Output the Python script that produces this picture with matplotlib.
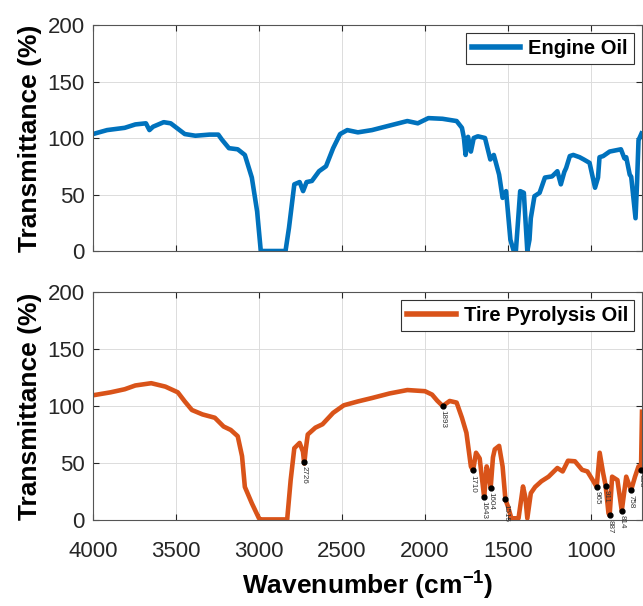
import numpy as np
import matplotlib
matplotlib.use("Agg")
import matplotlib.pyplot as plt

# -------------------------
# DATA
# -------------------------
eo_wn = [4000, 3915, 3809, 3745, 3681, 3660, 3638, 3574, 3532, 3447, 3383, 3298,
         3245, 3223, 3181, 3128, 3085, 3043, 3011, 2989, 2840, 2819, 2787, 2755,
         2734, 2713, 2681, 2638, 2596, 2553, 2511, 2468, 2404, 2319, 2213, 2106,
         2043, 1979, 1894, 1809, 1777, 1765, 1755, 1740, 1723, 1706, 1681, 1638,
         1606, 1585, 1553, 1532, 1511, 1485, 1465, 1452, 1426, 1404, 1383, 1370,
         1362, 1340, 1309, 1277, 1234, 1202, 1181, 1160, 1149, 1127, 1106, 1068,
         1043, 1008, 975, 957, 948, 926, 887, 819, 798, 787, 766, 757, 731, 722,
         713, 695]
eo_T = [103.5, 107, 109, 112, 113, 107, 110, 114, 113, 103.5, 102, 103,
        103, 98.5, 91, 90, 85, 65, 35, 0, 0, 20.6, 59, 61,
        53, 61, 62, 70.6, 75, 91, 103.5, 107, 105, 107, 111, 115,
        113, 117.6, 117, 115, 109, 100, 85, 101, 88, 100, 101.5, 100,
        81, 85, 67.6, 47, 53, 10, 0, 0, 53, 51.5, 0, 10,
        29, 48.5, 51.5, 65, 66, 70.6, 59, 70, 73.5, 84, 85, 83,
        81, 78, 56, 65, 83, 84, 88, 90, 82, 83, 67.6, 65.7, 29, 60,
        98, 104]

tpo_wn = [4000, 3894, 3809, 3745, 3649, 3564, 3489, 3447, 3404, 3340, 3266, 3213,
          3170, 3128, 3102, 3085, 3043, 3000, 2990, 2830, 2809, 2787, 2755, 2735,
          2727, 2718, 2706, 2660, 2617, 2553, 2489, 2404, 2319, 2213, 2106, 2000,
          1957, 1926, 1893, 1851, 1809, 1777, 1750, 1723, 1710, 1692, 1670, 1655,
          1643, 1628, 1615, 1604, 1590, 1579, 1553, 1532, 1515, 1500, 1479, 1436,
          1409, 1395, 1383, 1362, 1336, 1298, 1255, 1202, 1170, 1138, 1096, 1053,
          1021, 989, 965, 947, 926, 911, 894, 887, 872, 840, 814, 787, 758, 734,
          713, 698, 692]
tpo_T = [109.4, 112, 114.7, 118, 120, 117, 112, 104, 96.5, 92.6, 89.7, 82,
         79, 73.5, 56, 29, 14.7, 1.5, 0.5, 0.5, 35, 63, 67.6, 60,
         49.4, 62, 75, 81, 84, 94, 100.6, 104, 107, 111, 114, 113,
         110, 104.7, 100, 104.4, 103, 89.7, 76.5, 47, 43.5, 59, 54, 35,
         20, 47, 40, 28, 55, 62, 65, 47, 18, 12, 1.5, 1.5,
         29.4, 20, 1.5, 23.5, 29, 34, 38, 45.6, 42.6, 52, 51.5, 44,
         42.6, 35, 29, 59, 41, 30, 6, 4, 38, 35, 8, 38, 26, 38,
         47, 44, 95]

peak_wn = [2726, 1893, 1710, 1643, 1604, 1515, 965, 911, 887, 814, 758, 698]

# -------------------------
# STYLE
# -------------------------
plt.rcParams["font.family"] = ["Liberation Sans", "DejaVu Sans"]
plt.rcParams["mathtext.fontset"] = "custom"
plt.rcParams["mathtext.bf"] = "Liberation Sans:bold"
plt.rcParams["mathtext.rm"] = "Liberation Sans"
plt.rcParams["mathtext.default"] = "bf"

blue = "#0072BD"
orange = "#D95319"

fig = plt.figure(figsize=(6.43, 6.06), dpi=100)
ax1 = fig.add_axes([93 / 643, 1 - 251 / 606, 549 / 643, 226 / 606])
ax2 = fig.add_axes([93 / 643, 1 - 520 / 606, 549 / 643, 228 / 606])

ax1.plot(eo_wn, eo_T, color=blue, lw=3.3, label="Engine Oil")
ax2.plot(tpo_wn, tpo_T, color=orange, lw=3.3, label="Tire Pyrolysis Oil")

# peak markers on the tire oil curve
peak_T = np.interp(peak_wn, tpo_wn[::-1], tpo_T[::-1])
ax2.plot(peak_wn, peak_T, "o", color="black", ms=3.5, zorder=5)
for w, t in zip(peak_wn, peak_T):
    ax2.annotate(str(w), (w, t), xytext=(0, -3), textcoords="offset points",
                 rotation=-90, ha="center", va="top", fontsize=5.8,
                 color="#333333")

for ax in (ax1, ax2):
    ax.set_xlim(4000, 692)
    ax.set_ylim(0, 200)
    ax.set_xticks([4000, 3500, 3000, 2500, 2000, 1500, 1000])
    ax.set_yticks([0, 50, 100, 150, 200])
    ax.grid(True, color="#dcdcdc", lw=0.7)
    ax.set_axisbelow(True)
    ax.tick_params(direction="in", top=True, right=True, length=4,
                   labelsize=16, colors="#262626", pad=6)
    for s in ax.spines.values():
        s.set_color("#555555")
        s.set_linewidth(0.8)
    ax.set_ylabel("Transmittance (%)", fontsize=19, fontweight="bold",
                  labelpad=4)
    leg = ax.legend(loc="upper right", fancybox=False, framealpha=1,
                    edgecolor="#333333", borderaxespad=0.4, handlelength=2.4,
                    handletextpad=0.4, borderpad=0.3,
                    prop={"size": 14.5, "weight": "bold"})
    leg.get_frame().set_linewidth(0.8)
    for h in leg.get_lines():
        h.set_linewidth(4)

ax1.tick_params(labelbottom=False)
ax2.tick_params(axis="x", pad=15)
ax2.set_xlabel("Wavenumber (cm$^{-1}$)", fontsize=19, fontweight="bold",
               labelpad=6)

fig.savefig("out.png", dpi=100)
